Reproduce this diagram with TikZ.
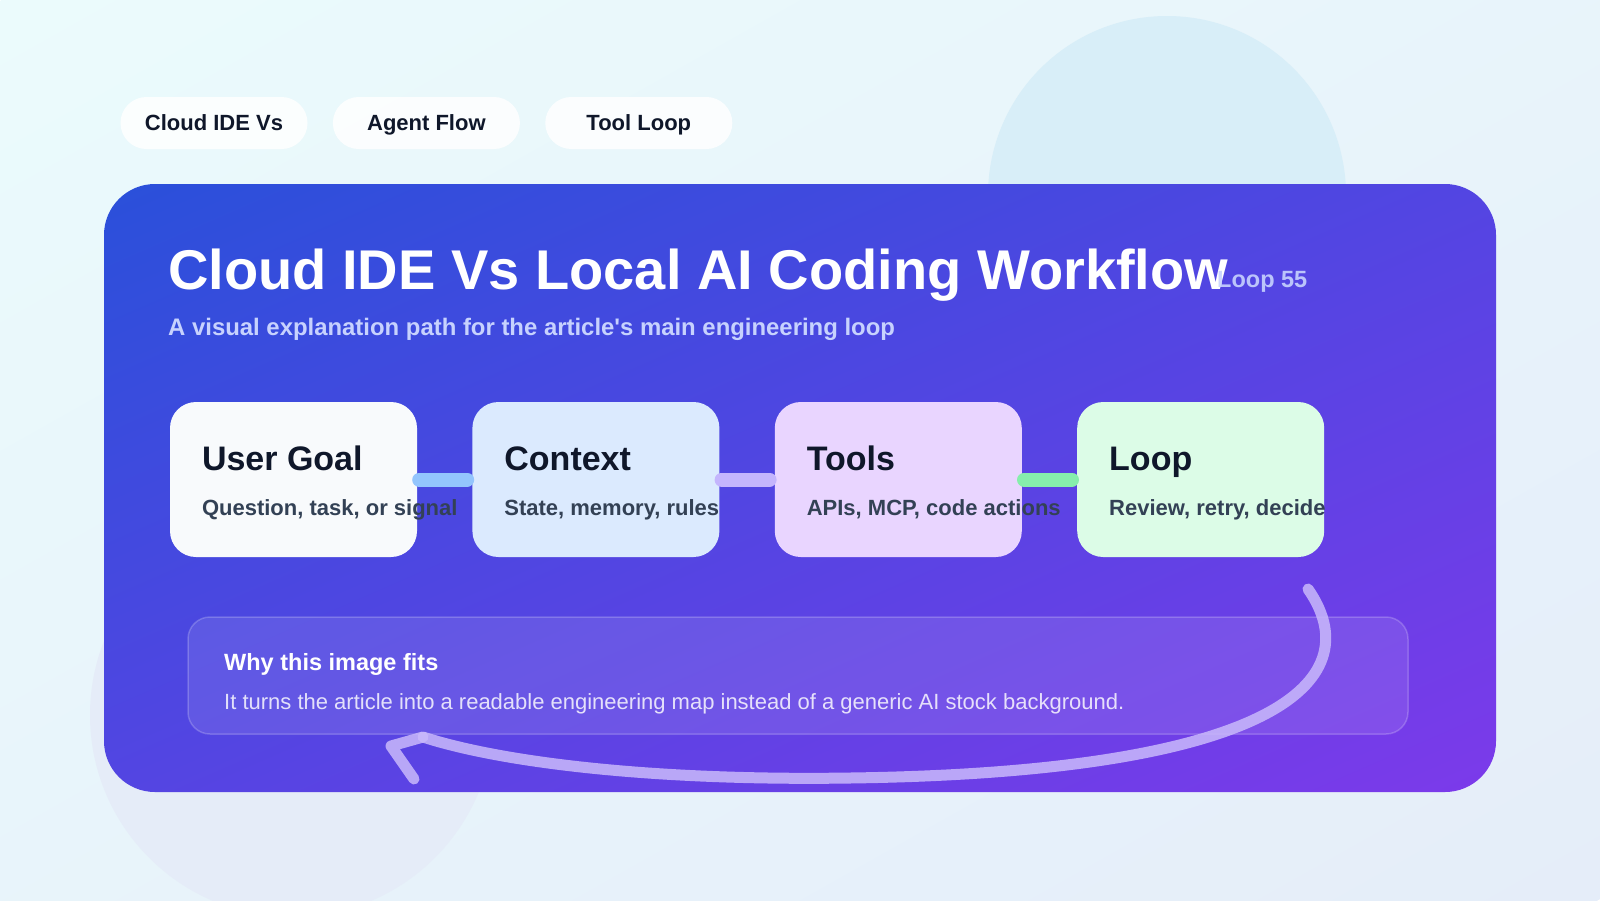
\documentclass[tikz,border=0pt]{standalone}
\usepackage{fontspec}
\setmainfont{Liberation Sans}
\usetikzlibrary{positioning,calc}

\definecolor{bgA}{HTML}{EBFBFC}
\definecolor{bgM}{HTML}{F4F8FC}
\definecolor{bgB}{HTML}{E5EDF9}
\definecolor{haloA}{HTML}{D8EEF8}
\definecolor{haloB}{HTML}{E5ECF8}
\definecolor{panelA}{HTML}{2A50DA}
\definecolor{panelM}{HTML}{4A45E0}
\definecolor{panelB}{HTML}{7C3AEA}
\definecolor{ink}{HTML}{0F172A}
\definecolor{slate}{HTML}{334155}
\definecolor{cardA}{HTML}{F8FAFC}
\definecolor{cardB}{HTML}{DBEAFE}
\definecolor{cardC}{HTML}{E9D5FF}
\definecolor{cardD}{HTML}{DCFCE7}
\definecolor{linkA}{HTML}{93C5FD}
\definecolor{linkB}{HTML}{C4B5FD}
\definecolor{linkC}{HTML}{86EFAC}
\definecolor{soft}{HTML}{C7D2FE}
\definecolor{lav}{HTML}{C9B9FB}

\pgfdeclarelayer{back}
\pgfsetlayers{back,main}

\begin{document}
\begin{tikzpicture}[
    x=1pt, y=-1pt,
    node distance=55pt and 55pt,
    pill/.style={fill=white, fill opacity=0.85, text opacity=1, rounded corners=26pt, minimum width=187pt, minimum height=52pt,
                 text height=15.8pt, text depth=0pt, font=\fontsize{22}{26}\selectfont\bfseries, text=ink},
    card/.style={rounded corners=26pt, minimum width=247pt, minimum height=155pt, inner sep=0pt},
    ctitle/.style={anchor=base west, inner sep=0pt, font=\fontsize{34}{40}\selectfont\bfseries, text=ink},
    csub/.style={anchor=base west, inner sep=0pt, font=\fontsize{22}{26}\selectfont\bfseries, text=slate},
    link/.style={line width=14pt, line cap=round, shorten <=2pt, shorten >=5pt},
    loopback/.style={line width=11pt, line cap=round, line join=round, draw=lav, draw opacity=0.85}
]
\useasboundingbox (0,0) rectangle (1600,900);

% backdrop, halos and panel
\begin{pgfonlayer}{back}
\begin{scope}[transform canvas={rotate around={29.4:(800,450)}}]
\shade[top color=bgA, middle color=bgM, bottom color=bgB] (-200,-334) rectangle (1800,1234);
\end{scope}
\fill[haloA] (1167,195) circle (179pt);
\fill[haloB] (292,715) circle (202pt);
\begin{scope}
\clip[rounded corners=51pt] (104,184) rectangle (1496,792);
\begin{scope}[transform canvas={rotate around={23.6:(800,488)}}]
\shade[top color=panelA, middle color=panelM, bottom color=panelB] (-100,-69) rectangle (1700,1045);
\end{scope}
\end{scope}
\fill[white, fill opacity=0.1, draw=white, draw opacity=0.2, line width=1.5pt, rounded corners=22pt]
    (188,617) rectangle (1408,734);
\end{pgfonlayer}

% tags
\node[pill] (cloudPill) at (214,123) {Cloud IDE Vs};
\node[pill, right=25pt of cloudPill] (agentPill) {Agent Flow};
\node[pill, right=25pt of agentPill] (toolPill) {Tool Loop};

% heading
\node[anchor=base west, inner sep=0pt, font=\fontsize{56}{64}\selectfont\bfseries, text=white] (heading) at (168,289)
    {Cloud IDE Vs Local AI Coding Workflow};
\node[anchor=base west, inner sep=0pt, font=\fontsize{23.5}{28}\selectfont\bfseries, text=soft, text opacity=0.9] (loopTag) at (1217,287) {Loop 55};
\node[anchor=base west, inner sep=0pt, font=\fontsize{23.9}{28}\selectfont\bfseries, text=soft] (subheading) at (168,335)
    {A visual explanation path for the article\textquotesingle s main engineering loop};

% cards
\node[card, fill=cardA] (userGoal) at (293.5,479.5) {};
\node[card, fill=cardB, right=of userGoal] (context) {};
\node[card, fill=cardC, right=of context] (tools) {};
\node[card, fill=cardD, right=of tools] (loop) {};

\draw[link, draw=linkA] (userGoal.east) -- (context.west);
\draw[link, draw=linkB] (context.east) -- (tools.west);
\draw[link, draw=linkC] (tools.east) -- (loop.west);

\node[ctitle] (userGoalTitle) at ([xshift=32pt, yshift=-69pt]userGoal.north west) {User Goal};
\node[csub] (userGoalText) at ([xshift=32pt, yshift=-114pt]userGoal.north west) {Question, task, or signal};
\node[ctitle] (contextTitle) at ([xshift=32pt, yshift=-69pt]context.north west) {Context};
\node[csub] (contextText) at ([xshift=32pt, yshift=-114pt]context.north west) {State, memory, rules};
\node[ctitle] (toolsTitle) at ([xshift=32pt, yshift=-69pt]tools.north west) {Tools};
\node[csub] (toolsText) at ([xshift=32pt, yshift=-114pt]tools.north west) {APIs, MCP, code actions};
\node[ctitle] (loopTitle) at ([xshift=32pt, yshift=-69pt]loop.north west) {Loop};
\node[csub] (loopText) at ([xshift=32pt, yshift=-114pt]loop.north west) {Review, retry, decide};

% note
\node[anchor=base west, inner sep=0pt, font=\fontsize{23.5}{28}\selectfont\bfseries, text=white] (whyTitle) at (224,670) {Why this image fits};
\node[anchor=base west, inner sep=0pt, font=\fontsize{22}{26}\selectfont, text=white, text opacity=0.82] (whyText) at (224,709)
    {It turns the article into a readable engineering map instead of a generic AI stock background.};

% loop back arrow
\coordinate (loopStart) at (1308,589);
\coordinate (loopEnd) at (423,737);
\coordinate (loopTip) at (391,746);
\coordinate (loopFoot) at (414,779);
\draw[loopback] (loopStart) .. controls (1368,675) and (1290,772) .. (850,778)
    .. controls (650,781) and (500,762) .. (loopEnd);
\draw[loopback] (loopEnd) -- (loopTip) -- (loopFoot);
\end{tikzpicture}
\end{document}
